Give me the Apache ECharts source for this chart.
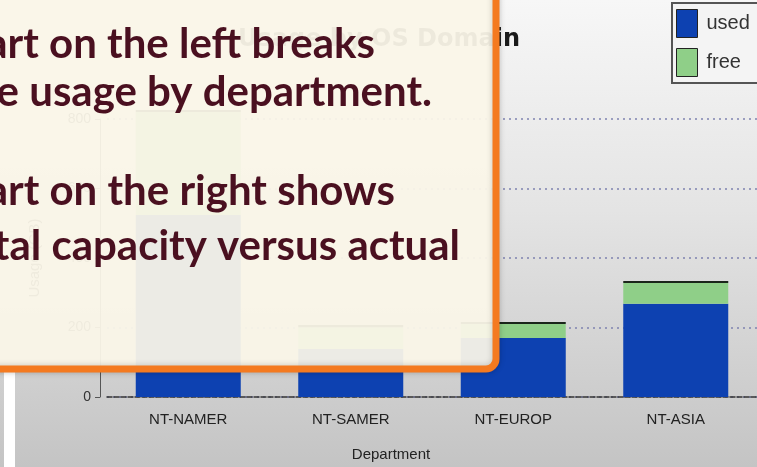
<!DOCTYPE html>
<html>
<head>
<meta charset="utf-8">
<title>Usage by OS Domain</title>
<script src="https://cdn.jsdelivr.net/npm/echarts@6/dist/echarts.min.js"></script>
<style>
  html, body { margin: 0; padding: 0; }
  #chart { width: 757px; height: 467px; }
</style>
</head>
<body>
<div id="chart"></div>
<script>
// data (GB)
var departments = ["NT-NAMER", "NT-SAMER", "NT-EUROP", "NT-ASIA"];
var usedGB = [524, 138, 170, 268];
var freeGB = [296, 63, 40, 60];
var capGB = [6, 6, 6, 6]; // thin dark strip on top of each stack
var yMax = 800;
var yStep = 200;

// slide callout that sits over the chart
var noteLines = [
  "The chart on the left breaks",
  "down the usage by department.",
  "The chart on the right shows",
  "the total capacity versus actual"
];
var noteRight = [375, 432, 395, 460];
var noteMid = [44, 92, 191, 246];

var narrow = "'Liberation Sans Narrow', 'Arial Narrow', 'Liberation Sans', sans-serif";

var chart = echarts.init(document.getElementById("chart"));

var graphics = [
  // white slide edge at the far left
  {
    type: "rect",
    z: 90,
    shape: { x: 4, y: 372, width: 11, height: 100 },
    style: { fill: "#ffffff" }
  },
  {
    type: "rect",
    z: 100,
    shape: { x: -40, y: -40, width: 536, height: 409, r: 10 },
    style: {
      fill: "rgba(254,250,236,0.93)",
      stroke: "#f47a20",
      lineWidth: 7,
      shadowBlur: 6,
      shadowColor: "rgba(0,0,0,0.2)"
    }
  }
];
noteLines.forEach(function (line, i) {
  graphics.push({
    type: "text",
    z: 101,
    style: {
      text: line,
      x: noteRight[i],
      y: noteMid[i],
      align: "right",
      verticalAlign: "middle",
      fill: "#4a1020",
      font: "bold 42px Lato, 'Open Sans', sans-serif"
    }
  });
});

chart.setOption({
  backgroundColor: {
    type: "linear",
    x: 0, y: 0, x2: 0, y2: 1,
    colorStops: [
      { offset: 0, color: "#f7f7f7" },
      { offset: 0.45, color: "#e4e4e4" },
      { offset: 1, color: "#c4c4c4" }
    ]
  },
  animation: false,
  title: {
    text: "Usage by OS Domain",
    right: 237,
    top: 28,
    padding: 0,
    textStyle: {
      fontFamily: "DejaVu Sans",
      fontWeight: "bold",
      fontSize: 24,
      color: "#1a1a1a"
    }
  },
  legend: {
    data: ["used", "free"],
    orient: "vertical",
    left: 672,
    top: 3,
    padding: [6, 40, 6, 4],
    itemWidth: 21,
    itemHeight: 28,
    itemGap: 10,
    borderColor: "#555555",
    borderWidth: 2,
    backgroundColor: "#f4f4f4",
    icon: "rect",
    itemStyle: { borderColor: "#222222", borderWidth: 1 },
    textStyle: {
      fontFamily: narrow,
      fontSize: 20,
      color: "#333333",
      padding: [0, 0, 0, 4]
    }
  },
  grid: {
    left: 107,
    top: 119,
    width: 653,
    bottom: 70
  },
  xAxis: {
    type: "category",
    data: departments,
    name: "Department",
    nameLocation: "middle",
    nameGap: 50,
    nameTextStyle: {
      fontFamily: narrow,
      fontSize: 15,
      color: "#222222",
      padding: [0, 82, 0, 0]
    },
    axisLine: {
      lineStyle: { color: "#333333", width: 1.5, type: [5, 2] }
    },
    axisTick: {
      alignWithLabel: true,
      length: 5,
      lineStyle: { color: "#555555" }
    },
    axisLabel: {
      margin: 15,
      fontFamily: narrow,
      fontSize: 15,
      color: "#222222"
    }
  },
  yAxis: {
    type: "value",
    min: 0,
    max: yMax,
    interval: yStep,
    offset: 7,
    name: "Usage (GB)",
    nameLocation: "middle",
    nameGap: 58,
    nameTextStyle: { fontFamily: narrow, fontSize: 15, color: "#333333" },
    axisLine: { show: true, lineStyle: { color: "#555555" } },
    axisTick: { show: true, length: 5, lineStyle: { color: "#555555" } },
    axisLabel: {
      margin: 9,
      fontFamily: narrow,
      fontSize: 14,
      color: "#333333"
    },
    splitLine: {
      show: true,
      lineStyle: { color: "#7f82b0", width: 1.5, type: [2, 4] }
    }
  },
  series: [
    {
      name: "used",
      type: "bar",
      stack: "total",
      barWidth: 105,
      clip: false,
      itemStyle: { color: "#0d41b1" },
      data: usedGB
    },
    {
      name: "free",
      type: "bar",
      stack: "total",
      barWidth: 105,
      clip: false,
      itemStyle: { color: "#8fcf88" },
      data: freeGB
    },
    {
      name: "cap",
      type: "bar",
      stack: "total",
      barWidth: 105,
      clip: false,
      itemStyle: { color: "#1b261b" },
      data: capGB
    }
  ],
  graphic: graphics
});
</script>
</body>
</html>
